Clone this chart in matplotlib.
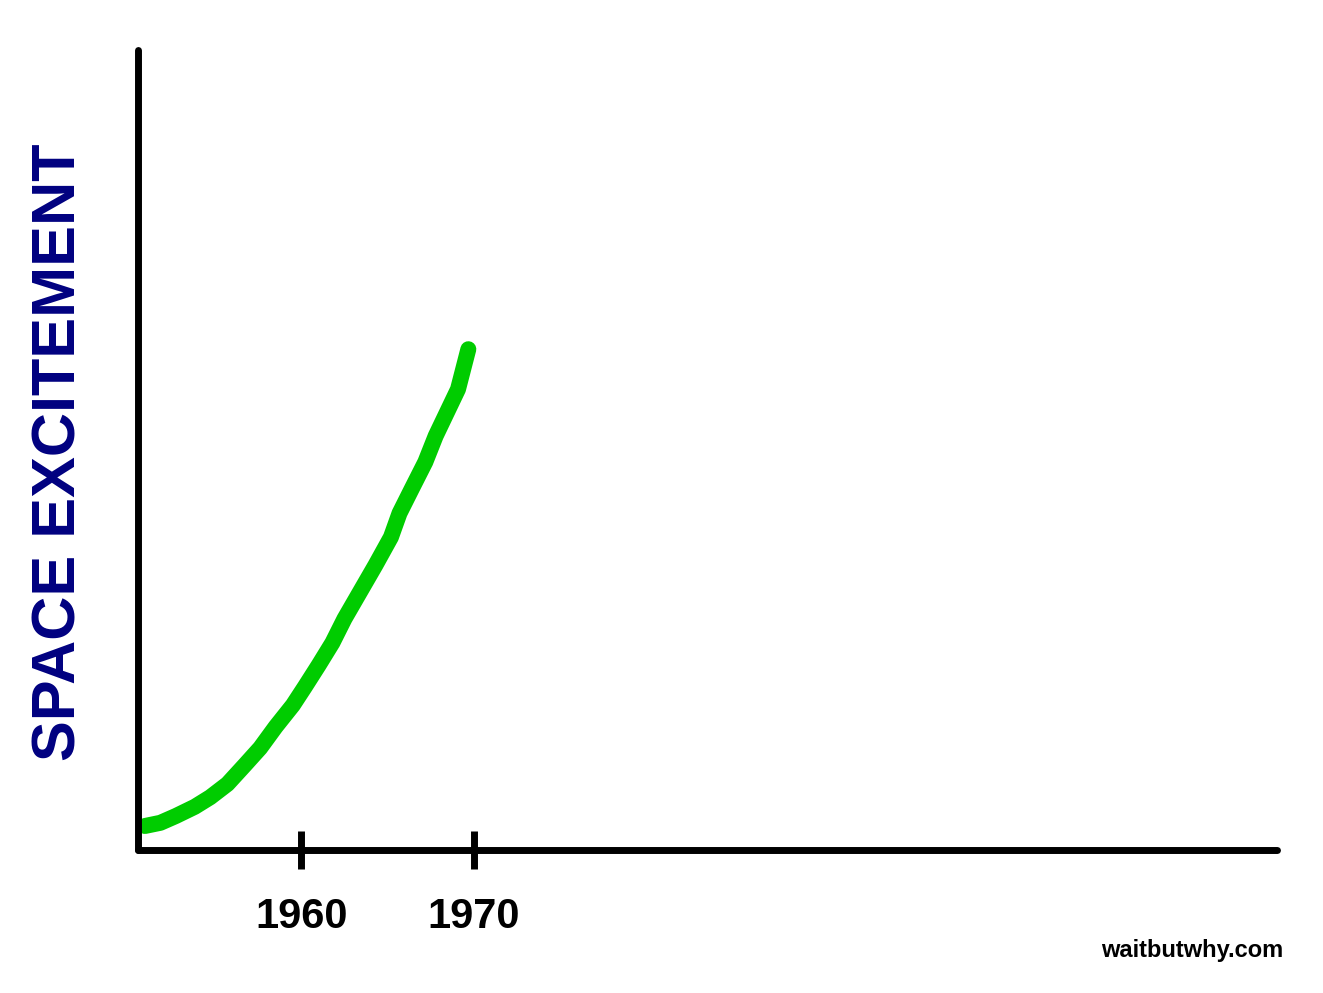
import matplotlib.pyplot as plt

years = [1950.9, 1951.8, 1952.7, 1953.8, 1954.7, 1955.7, 1956.7, 1957.6, 1958.5,
         1959.5, 1960.2, 1961.0, 1961.8, 1962.5, 1963.4, 1964.3, 1965.2, 1965.7,
         1966.4, 1967.2, 1967.8, 1968.5, 1969.1, 1969.7]
excitement = [3.0, 3.4, 4.25, 5.4, 6.6, 8.25, 10.6, 12.75, 15.4, 18.1, 20.4, 23.1,
              25.9, 28.9, 32.25, 35.6, 39.1, 42.1, 45.1, 48.5, 51.75, 54.9, 57.6, 62.6]
tick_years = [1960, 1970]

fig = plt.figure(figsize=(13.23, 9.93), dpi=100)
ax = fig.add_axes([138/1323, 1-850/993, (1277-138)/1323, 800/993])
ax.plot(years, excitement, color="#00cc00", lw=11.5, solid_capstyle="round",
        solid_joinstyle="round")
ax.set_xlim(1950.5, 2016.7)
ax.set_ylim(0, 100)
for s in ["top", "right"]:
    ax.spines[s].set_visible(False)
for s in ["left", "bottom"]:
    ax.spines[s].set_linewidth(5)
    ax.spines[s].set_capstyle("round")
ax.set_xticks(tick_years)
ax.set_xticklabels([str(y) for y in tick_years], fontsize=30, fontweight="bold",
                   family="Liberation Sans")
ax.tick_params(axis="x", direction="inout", length=28, width=5, pad=20)
ax.set_yticks([])
fig.text(60/1323, 1-452/993, "SPACE EXCITEMENT", rotation=90, color="#000080",
         fontsize=44, fontweight="bold", family="Liberation Sans",
         ha="center", va="center")
fig.text(1283/1323, 1-950/993, "waitbutwhy.com", fontsize=17, fontweight="bold",
         family="Liberation Sans", ha="right", va="center")
fig.savefig("out.png", dpi=100)
